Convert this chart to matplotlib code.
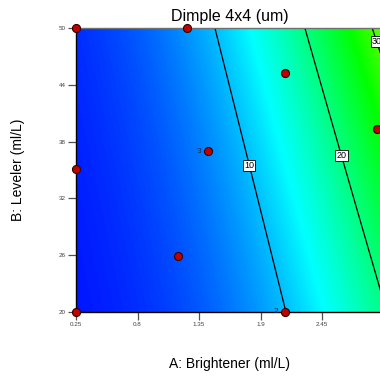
import numpy as np
import matplotlib
matplotlib.use("Agg")
import matplotlib.pyplot as plt
from matplotlib.colors import LinearSegmentedColormap, Normalize

plt.rcParams['font.family'] = ['Liberation Sans', 'DejaVu Sans']

# Axis ranges / ticks
x_range = [0.25, 3.0]
y_range = [20, 50]
x_ticks = [0.25, 0.8, 1.35, 1.9, 2.45]
x_tick_labels = ["0.25", "0.8", "1.35", "1.9", "2.45"]
y_ticks = [20, 26, 32, 38, 44, 50]
y_tick_labels = ["20", "26", "32", "38", "44", "50"]

# Response surface model of ln(Dimple) (coded around x0, y0)
model_center = [1.896, 50.0]
model_coef = {"const": 2.672, "x": 0.861, "x2": -0.1335, "y": 0.01941, "xy": -0.00299}

contour_levels = [10, 20, 30]
label_positions = [(1.806, 35.5), (2.62, 36.5), (2.925, 48.5)]

# Design points
pts_x = [0.25, 1.24, 2.12, 1.433, 0.25, 1.162, 2.12, 2.94, 0.25]
pts_y = [50, 50, 45.28, 37.0, 35.07, 25.9, 20, 39.3, 20]
pts_label = ["", "", "", "3", "", "", "2", "", ""]

fig = plt.figure(figsize=(3.8, 3.78), dpi=100)
ax = fig.add_axes([76/380, 1-312/378, 307.5/380, 284/378])

gx = np.linspace(x_range[0], x_range[1], 400)
gy = np.linspace(y_range[0], y_range[1], 400)
GX, GY = np.meshgrid(gx, gy)
X = GX - model_center[0]
Y = GY - model_center[1]
Z = np.exp(model_coef["const"] + model_coef["x"]*X + model_coef["x2"]*X**2
           + model_coef["y"]*Y + model_coef["xy"]*X*Y)

cmap = LinearSegmentedColormap.from_list(
    "de", ["#0000ff", "#00ffff", "#00ff00", "#ffff00", "#ff0000"])
ax.imshow(Z, extent=[x_range[0], x_range[1], y_range[0], y_range[1]],
          origin="lower", aspect="auto", cmap=cmap,
          norm=Normalize(vmin=0, vmax=53), interpolation="bilinear")

cs = ax.contour(GX, GY, Z, levels=contour_levels, colors="black", linewidths=0.9)
cl = ax.clabel(cs, fmt="%d", fontsize=6.5, inline=False, manual=label_positions)
for t in cl:
    t.set_bbox(dict(facecolor="white", edgecolor="black", pad=0.8, linewidth=0.6))
    t.set_rotation(0)

ax.plot(pts_x, pts_y, "o", color="#c00000", markeredgecolor="#300000",
        markeredgewidth=0.8, markersize=5.8, clip_on=False, zorder=5)
for px, py, lab in zip(pts_x, pts_y, pts_label):
    if lab:
        ax.annotate(lab, (px, py), xytext=(-6.5, 0), textcoords="offset points",
                    fontsize=6, color="#1a2a50", ha="center", va="center",
                    annotation_clip=False, zorder=6)

ax.set_xlim(x_range)
ax.set_ylim(y_range)
ax.set_xticks(x_ticks)
ax.set_xticklabels(x_tick_labels)
ax.set_yticks(y_ticks)
ax.set_yticklabels(y_tick_labels)
ax.tick_params(axis="both", direction="out", length=5.5, width=0.9,
               colors="#505050", labelsize=4.5, pad=2, labelcolor="#404040")

for s in ["left", "bottom"]:
    ax.spines[s].set_color("black")
    ax.spines[s].set_linewidth(1.0)
ax.spines["top"].set_color("#707070")
ax.spines["top"].set_linewidth(1.0)
ax.spines["right"].set_visible(False)

ax.set_xlabel("A: Brightener (ml/L)", fontsize=10)
ax.xaxis.set_label_coords(153.5/307.5, -(364-312)/284)
ax.xaxis.label.set_va("center")
ax.set_ylabel("B: Leveler (ml/L)", fontsize=10)
ax.yaxis.set_label_coords((18-76)/307.5, 0.5)
ax.yaxis.label.set_va("center")

fig.text(229.7/380, 1-16/378, "Dimple 4x4 (um)", fontsize=11.5,
         ha="center", va="center")

fig.savefig("out.png", dpi=100)
